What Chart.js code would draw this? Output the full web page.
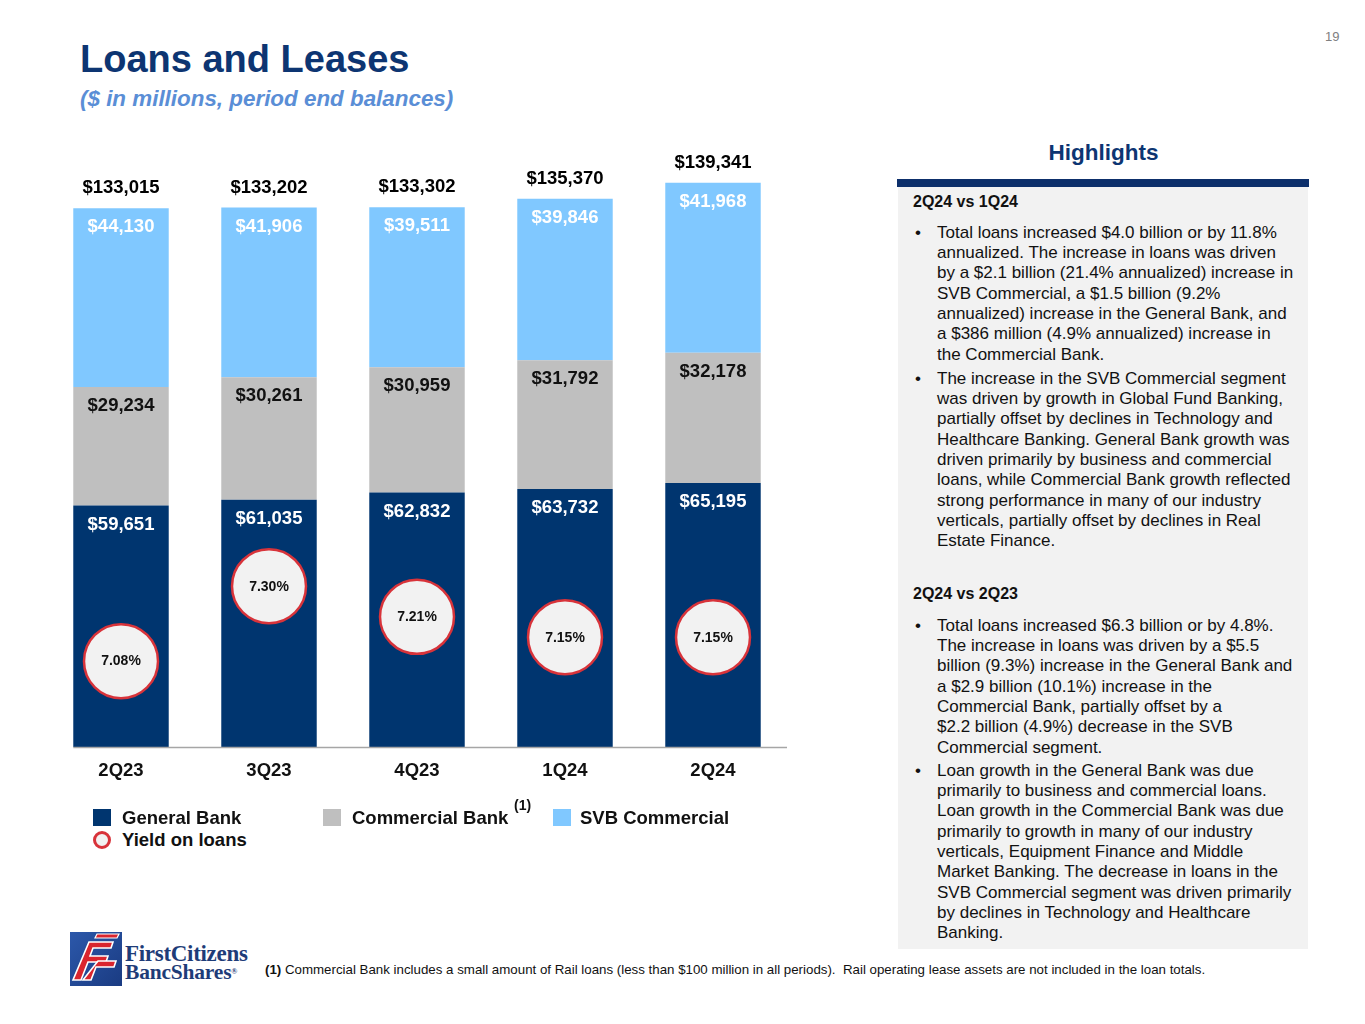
<!DOCTYPE html>
<html><head><meta charset="utf-8">
<script src="https://cdn.jsdelivr.net/npm/chart.js@4.4.1/dist/chart.umd.min.js"></script>
<style>
body{margin:0;width:1365px;height:1024px;position:relative;background:#fff;font-family:"Liberation Sans",Arial,Helvetica,sans-serif;overflow:hidden;color:#000}
.abs{position:absolute;white-space:nowrap}
#title{left:80px;top:40px;font-size:38px;line-height:38px;font-weight:bold;color:#0d3572}
#sub{left:80px;top:88px;font-size:22.4px;line-height:22px;font-weight:bold;font-style:italic;color:#5a8ed6}
#pg{left:1325px;top:30px;font-size:13px;line-height:13px;color:#808080}
#hl{left:899px;width:409px;top:142px;text-align:center;font-size:22.5px;line-height:22.5px;font-weight:bold;color:#0d3572}
#hlbar{left:897px;top:179px;width:412px;height:8px;background:#0d2f6b}
#panel{left:898px;top:187px;width:410px;height:762px;background:#f2f2f2}
.hd{left:913px;font-size:16px;line-height:16px;font-weight:bold;color:#111}
.bul{left:937px;font-size:17px;line-height:20.3px;color:#111}
.bul .dot{position:absolute;left:-22px;top:0}
.sq{position:absolute;width:18px;height:17px}
.lg{font-size:18.5px;line-height:18.5px;font-weight:bold;color:#111}
#foot{left:265px;top:963px;font-size:13.3px;line-height:13.3px;color:#111}
.logo{font-family:"Liberation Serif","DejaVu Serif",serif;color:#1e3c78;font-weight:bold}
</style></head><body>
<div id="title" class="abs">Loans and Leases</div>
<div id="sub" class="abs">($ in millions, period end balances)</div>
<div id="pg" class="abs">19</div>

<div style="position:absolute;left:0;top:0;width:800px;height:800px"><canvas id="c" width="800" height="800"></canvas></div>

<div class="sq" style="left:93px;top:809px;background:#00356f"></div>
<div class="abs lg" style="left:122px;top:809px">General Bank</div>
<div class="sq" style="left:323px;top:809px;background:#bfbfbf"></div>
<div class="abs lg" style="left:352px;top:809px">Commercial Bank</div>
<div class="abs" style="left:514px;top:798px;font-size:14px;line-height:14px;font-weight:bold;color:#111">(1)</div>
<div class="sq" style="left:553px;top:809px;background:#80c8ff"></div>
<div class="abs lg" style="left:580px;top:809px">SVB Commercial</div>
<div style="position:absolute;left:93px;top:831px;width:12px;height:12px;border:3px solid #d8333a;border-radius:50%;background:#f2f2f2"></div>
<div class="abs lg" style="left:122px;top:831px">Yield on loans</div>

<div id="hl" class="abs">Highlights</div>
<div id="hlbar" class="abs"></div>
<div id="panel" class="abs"></div>
<div class="abs hd" style="top:194px">2Q24 vs 1Q24</div>
<div class="abs bul" style="top:222.8px"><span class="dot">•</span>Total loans increased $4.0 billion or by 11.8%<br>annualized. The increase in loans was driven<br>by a $2.1 billion (21.4% annualized) increase in<br>SVB Commercial, a $1.5 billion (9.2%<br>annualized) increase in the General Bank, and<br>a $386 million (4.9% annualized) increase in<br>the Commercial Bank.</div>
<div class="abs bul" style="top:368.8px"><span class="dot">•</span>The increase in the SVB Commercial segment<br>was driven by growth in Global Fund Banking,<br>partially offset by declines in Technology and<br>Healthcare Banking. General Bank growth was<br>driven primarily by business and commercial<br>loans, while Commercial Bank growth reflected<br>strong performance in many of our industry<br>verticals, partially offset by declines in Real<br>Estate Finance.</div>
<div class="abs hd" style="top:586px">2Q24 vs 2Q23</div>
<div class="abs bul" style="top:615.8px"><span class="dot">•</span>Total loans increased $6.3 billion or by 4.8%.<br>The increase in loans was driven by a $5.5<br>billion (9.3%) increase in the General Bank and<br>a $2.9 billion (10.1%) increase in the<br>Commercial Bank, partially offset by a<br>$2.2 billion (4.9%) decrease in the SVB<br>Commercial segment.</div>
<div class="abs bul" style="top:760.8px"><span class="dot">•</span>Loan growth in the General Bank was due<br>primarily to business and commercial loans.<br>Loan growth in the Commercial Bank was due<br>primarily to growth in many of our industry<br>verticals, Equipment Finance and Middle<br>Market Banking. The decrease in loans in the<br>SVB Commercial segment was driven primarily<br>by declines in Technology and Healthcare<br>Banking.</div>

<svg class="abs" style="left:70px;top:932px" width="52" height="54" viewBox="0 0 52 54">
<defs><linearGradient id="g" x1="0" y1="0" x2="1" y2="1"><stop offset="0" stop-color="#2c58aa"/><stop offset="1" stop-color="#1a3b82"/></linearGradient></defs>
<rect x="0" y="0" width="52" height="54" fill="url(#g)"/>
<polygon points="3,48 11,48 18,30 36,30 38,24 20,24 23,16 41,16 43,10 19,10" fill="#d9252e" stroke="#fff" stroke-width="1.6"/>
<polygon points="13,48 21,48 26,35 44,35 46,29 28,29" fill="#d9252e" stroke="#fff" stroke-width="1.6"/>
<polygon points="25,6 47,6 49,2 27,2" fill="#d9252e" stroke="#fff" stroke-width="1.2"/>
</svg>
<div class="abs logo" style="left:125px;top:942px;font-size:23px;line-height:23px;letter-spacing:-0.3px">FirstCitizens</div>
<div class="abs logo" style="left:125px;top:962px;font-size:21.5px;line-height:21.5px;letter-spacing:-0.2px">BancShares<span style="font-size:8px;vertical-align:top;position:relative;top:-1px">®</span></div>

<div id="foot" class="abs"><b>(1)</b> Commercial Bank includes a small amount of Rail loans (less than $100 million in all periods).&nbsp; Rail operating lease assets are not included in the loan totals.</div>

<script>
const categories = ['2Q23','3Q23','4Q23','1Q24','2Q24'];
const generalBank = [59651, 61035, 62832, 63732, 65195];
const commercialBank = [29234, 30261, 30959, 31792, 32178];
const svbCommercial = [44130, 41906, 39511, 39846, 41968];
const yieldOnLoans = [7.08, 7.30, 7.21, 7.15, 7.15];

const FONT = '"Liberation Sans", Arial, Helvetica, sans-serif';
const fmt = v => '$' + v.toLocaleString('en-US');
const segLabelColors = ['#ffffff', '#111111', '#ffffff'];

const labelPlugin = {
  id: 'labels',
  afterDatasetsDraw(chart) {
    const ctx = chart.ctx;
    ctx.save();
    ctx.textAlign = 'center';
    ctx.textBaseline = 'middle';
    ctx.font = 'bold 18.5px ' + FONT;
    [0, 1, 2].forEach(di => {
      const meta = chart.getDatasetMeta(di);
      meta.data.forEach((el, i) => {
        ctx.fillStyle = segLabelColors[di];
        ctx.fillText(fmt(chart.data.datasets[di].data[i]), el.x, el.y + 19);
      });
    });
    const topMeta = chart.getDatasetMeta(2);
    topMeta.data.forEach((el, i) => {
      const total = generalBank[i] + commercialBank[i] + svbCommercial[i];
      ctx.fillStyle = '#000';
      ctx.fillText(fmt(total), el.x, el.y - 20);
    });
    const a = chart.chartArea;
    const b0 = chart.getDatasetMeta(0).data[0];
    ctx.strokeStyle = '#a6a6a6';
    ctx.lineWidth = 1.5;
    ctx.beginPath();
    ctx.moveTo(b0.x - b0.width / 2, a.bottom + 0.5);
    ctx.lineTo(a.right, a.bottom + 0.5);
    ctx.stroke();
    ctx.restore();
  },
  afterDraw(chart) {
    const ctx = chart.ctx;
    ctx.save();
    ctx.textAlign = 'center';
    ctx.textBaseline = 'middle';
    ctx.font = 'bold 14px ' + FONT;
    ctx.fillStyle = '#111';
    chart.getDatasetMeta(3).data.forEach((el, i) => {
      ctx.fillText(yieldOnLoans[i].toFixed(2) + '%', el.x, el.y + 0.5);
    });
    ctx.restore();
  }
};

new Chart(document.getElementById('c'), {
  data: {
    labels: categories,
    datasets: [
      { type: 'bar', label: 'General Bank', data: generalBank, backgroundColor: '#00356f', stack: 's', order: 2, yAxisID: 'y' },
      { type: 'bar', label: 'Commercial Bank', data: commercialBank, backgroundColor: '#bfbfbf', stack: 's', order: 2, yAxisID: 'y' },
      { type: 'bar', label: 'SVB Commercial', data: svbCommercial, backgroundColor: '#80c8ff', stack: 's', order: 2, yAxisID: 'y' },
      { type: 'line', label: 'Yield on loans', data: yieldOnLoans, yAxisID: 'y1', showLine: false, order: 0,
        pointRadius: 37, pointHoverRadius: 37, pointBackgroundColor: '#f2f2f2', pointBorderColor: '#d8333a', pointBorderWidth: 2.5, clip: false }
    ]
  },
  options: {
    responsive: false,
    animation: false,
    events: [],
    layout: { autoPadding: false, padding: { left: 47, right: 13, top: 180, bottom: 13 } },
    datasets: { bar: { barPercentage: 0.645, categoryPercentage: 1.0 } },
    plugins: { legend: { display: false }, tooltip: { enabled: false } },
    scales: {
      x: {
        stacked: true,
        grid: { display: false, drawTicks: false },
        border: { display: false },
        ticks: { color: '#111', font: { family: FONT, size: 18.5, weight: 'bold' }, padding: 13 },
        afterFit: s => { s.height = 40; }
      },
      y: { stacked: true, display: false, min: 0, max: 140000 },
      y1: { display: false, min: 6.828, max: 8.492 }
    }
  },
  plugins: [labelPlugin]
});
</script>
</body></html>
